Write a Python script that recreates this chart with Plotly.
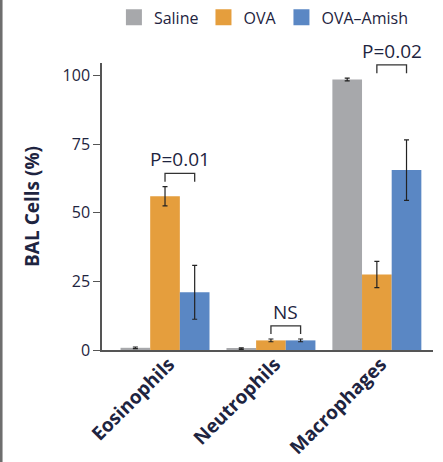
import plotly.graph_objects as go

categories = ["Eosinophils", "Neutrophils", "Macrophages"]
groups = ["Saline", "OVA", "OVA\u2013Amish"]
saline = [0.8, 0.5, 98.5]
saline_err = [0.3, 0.3, 0.5]
ova = [56.0, 3.5, 27.5]
ova_err = [3.5, 0.5, 4.8]
amish = [21.0, 3.5, 65.5]
amish_err = [9.8, 0.5, 11.0]
colors = ["#a7a8ab", "#e59e3d", "#5a87c4"]
# significance brackets: (category index, label) between OVA and OVA-Amish
brackets = [(0, "P=0.01"), (1, "NS"), (2, "P=0.02")]

TXT = "#1e2440"
FONT = "Open Sans, Liberation Sans, sans-serif"
bargap = 0.16
bw = (1 - bargap) / 3

fig = go.Figure()
series = [(saline, saline_err), (ova, ova_err), (amish, amish_err)]
xs = list(range(len(categories)))
for name, (vals, errs), col in zip(groups, series, colors):
    fig.add_trace(go.Bar(
        x=xs, y=vals, name=name, marker_color=col, marker_line_width=0,
        error_y=dict(type="data", array=errs, color="#222", thickness=1.2, width=2.5),
        showlegend=False, hoverinfo="skip",
    ))
    fig.add_trace(go.Scatter(
        x=[None], y=[None], mode="markers", name=name,
        marker=dict(symbol="square", size=16, color=col),
    ))

shapes = []
annotations = []
for ci, label in brackets:
    top_all = max(v[ci] + e[ci] for v, e in series)
    base = top_all + 1.8
    top = base + 3.0
    x0 = xs[ci]
    x1 = xs[ci] + bw
    shapes.append(dict(type="path", xref="x", yref="y",
                       path=f"M{x0},{base} L{x0},{top} L{x1},{top} L{x1},{base}",
                       line=dict(color="#333", width=1.3)))
    annotations.append(dict(x=(x0 + x1) / 2, y=top, xref="x", yref="y", text=label,
                            showarrow=False, yanchor="bottom", yshift=-1,
                            font=dict(size=19, color=TXT, family=FONT)))

# left page border
shapes.append(dict(type="line", xref="paper", yref="paper", x0=-0.305, x1=-0.305,
                   y0=-0.4, y1=1.25, line=dict(color="#6e6e6e", width=3)))

fig.update_layout(
    width=443, height=462,
    margin=dict(l=102, r=10, t=63, b=112, autoexpand=False),
    paper_bgcolor="white", plot_bgcolor="white",
    barmode="group", bargap=bargap, bargroupgap=0,
    font=dict(family=FONT, color=TXT, size=14),
    showlegend=True,
    legend=dict(orientation="h", x=0.036, xanchor="left", y=1.218, yanchor="top",
                font=dict(size=16, color=TXT, family=FONT),
                itemwidth=30, tracegroupgap=0, bgcolor="rgba(0,0,0,0)"),
    xaxis=dict(range=[-0.595, 2.53], tickvals=xs, ticktext=categories, tickangle=-45,
               showline=True, linecolor="#555", linewidth=1.5, ticks="",
               showgrid=False, zeroline=False, automargin=False,
               ticklabelstandoff=-6, ticklabelshift=4,
               tickfont=dict(size=19, color=TXT, family=FONT, weight="bold")),
    yaxis=dict(range=[0, 104.5], tickvals=[0, 25, 50, 75, 100],
               showline=True, linecolor="#555", linewidth=1.5, ticks="outside",
               ticklen=7, tickcolor="#555", tickwidth=1.3,
               showgrid=False, zeroline=False, automargin=False,
               tickfont=dict(size=16, color=TXT, family=FONT),
               title=dict(text="BAL Cells (%)", standoff=18,
                          font=dict(size=19, color=TXT, family=FONT, weight="bold"))),
    shapes=shapes, annotations=annotations,
)

fig.write_html("out.html", config={"displayModeBar": False},
               post_script="document.body.style.margin='0';document.body.style.overflow='hidden';")
